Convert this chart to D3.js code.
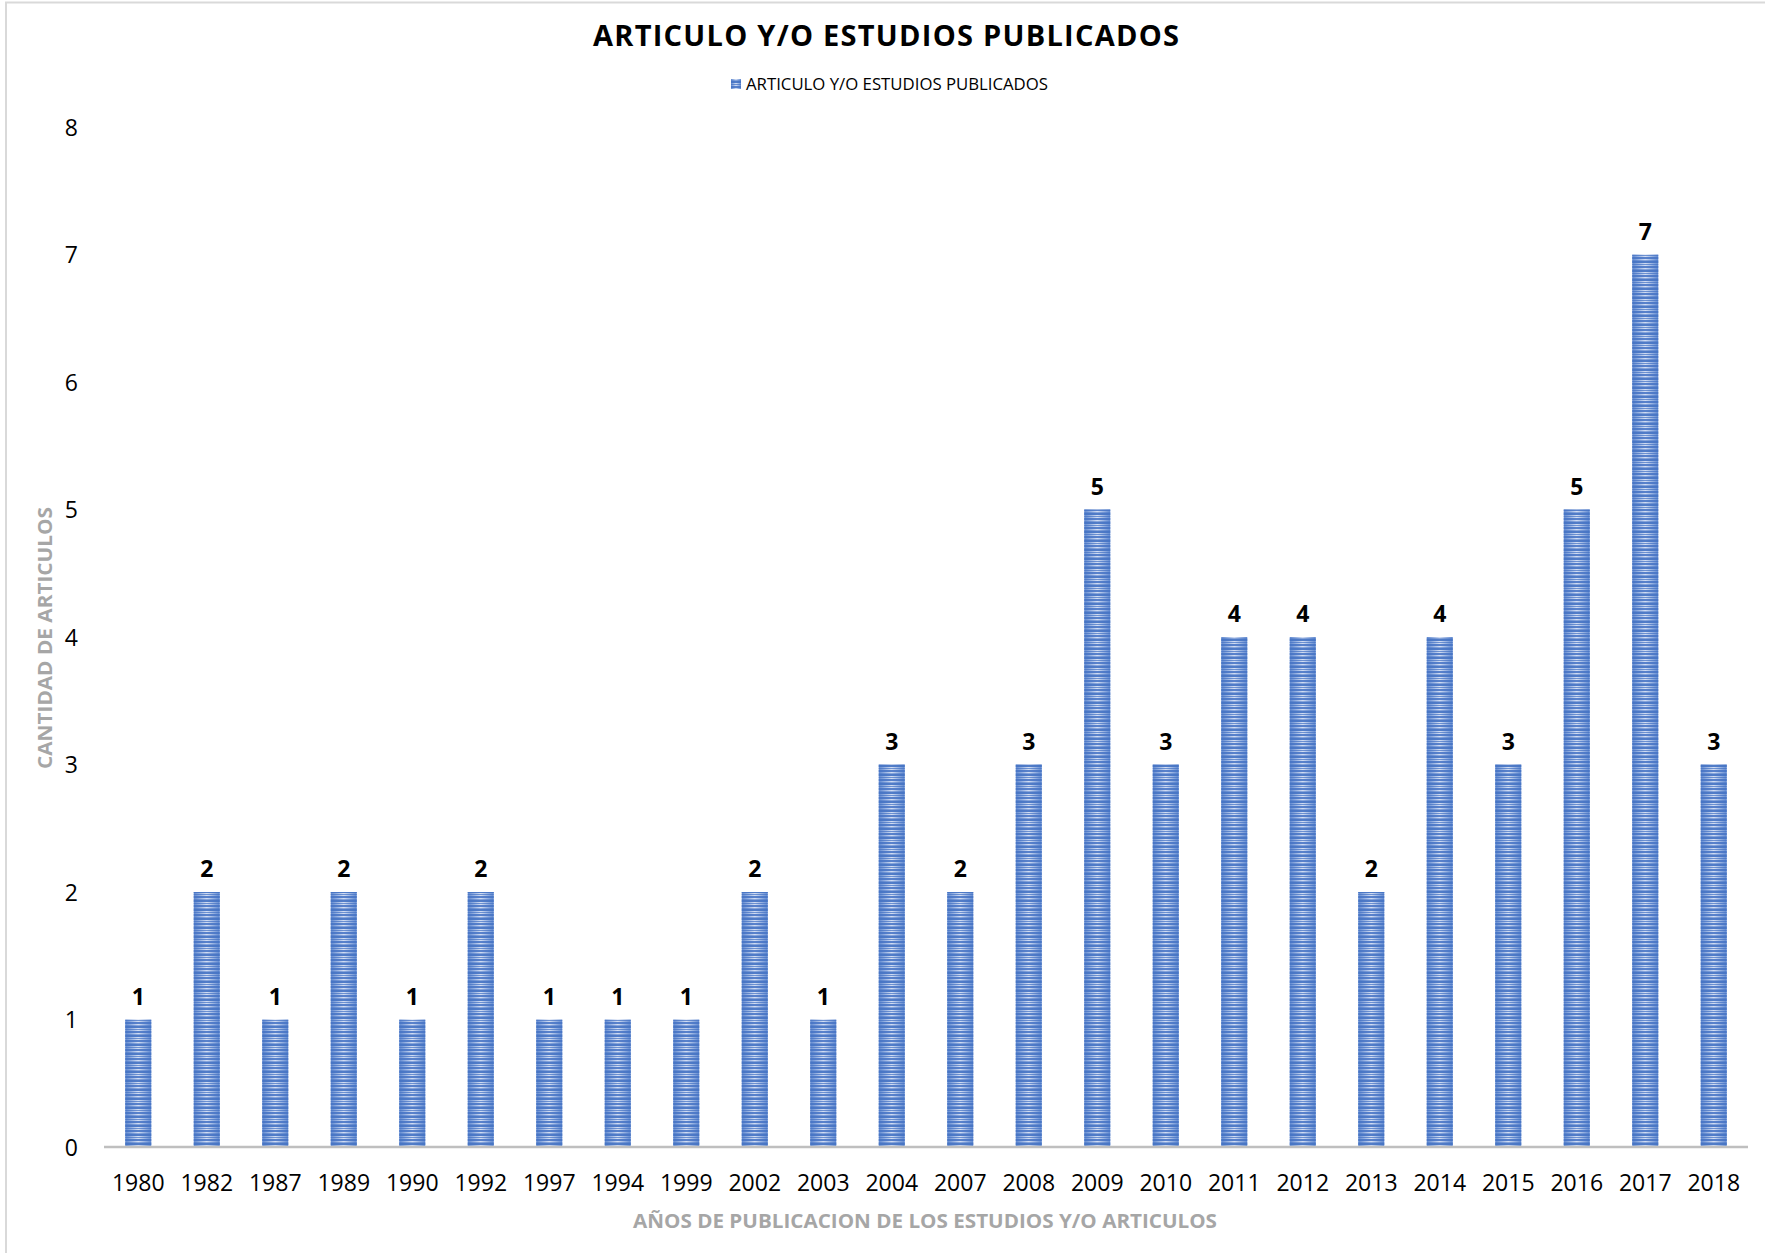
<!DOCTYPE html>
<html>
<head>
<meta charset="utf-8">
<script src="https://cdn.jsdelivr.net/npm/d3@7"></script>
<style>
  html, body { margin: 0; padding: 0; background: #fff; }
  svg { display: block; }
</style>
</head>
<body>
<svg id="chart" width="1765" height="1253"></svg>
<script>
const years = ["1980","1982","1987","1989","1990","1992","1997","1994","1999","2002","2003","2004","2007","2008","2009","2010","2011","2012","2013","2014","2015","2016","2017","2018"];
const counts = [1,2,1,2,1,2,1,1,1,2,1,3,2,3,5,3,4,4,2,4,3,5,7,3];
const yTickValues = [0,1,2,3,4,5,6,7,8];
const titleText = "ARTICULO Y/O ESTUDIOS PUBLICADOS";
const seriesName = "ARTICULO Y/O ESTUDIOS PUBLICADOS";
const xTitle = "AÑOS DE PUBLICACION DE LOS ESTUDIOS Y/O ARTICULOS";
const yTitle = "CANTIDAD DE ARTICULOS";

const data = years.map((y, i) => ({ year: y, value: counts[i] }));
const svg = d3.select("#chart");
const font = "'Open Sans', 'Noto Sans', sans-serif";

// border
svg.append("path").attr("d", "M6,1765 V2.5 H1765").attr("fill", "none")
  .attr("stroke", "#d9d9d9").attr("stroke-width", 2);

// defs
const defs = svg.append("defs");
const grad = defs.append("linearGradient").attr("id", "barGrad")
  .attr("x1", "0%").attr("x2", "100%").attr("y1", "0%").attr("y2", "0%");
grad.append("stop").attr("offset", "0%").attr("stop-color", "#6089d0");
grad.append("stop").attr("offset", "50%").attr("stop-color", "#d3def3");
grad.append("stop").attr("offset", "100%").attr("stop-color", "#6089d0");
const pat = defs.append("pattern").attr("id", "stripes")
  .attr("patternUnits", "userSpaceOnUse").attr("width", 10).attr("height", 9);
pat.append("rect").attr("x", 0).attr("y", 0).attr("width", 10).attr("height", 2).attr("fill", "#4472c4").attr("opacity", 0.9);
pat.append("rect").attr("x", 0).attr("y", 3).attr("width", 10).attr("height", 1).attr("fill", "#4472c4").attr("opacity", 0.7);
pat.append("rect").attr("x", 0).attr("y", 5).attr("width", 10).attr("height", 2).attr("fill", "#4472c4").attr("opacity", 0.85);
pat.append("rect").attr("x", 0).attr("y", 8).attr("width", 10).attr("height", 1).attr("fill", "#4472c4").attr("opacity", 0.5);

const x = d3.scaleBand().domain(years).range([104, 1748]).paddingInner(0.62).paddingOuter(0.31);
const y = d3.scaleLinear().domain([0, 8]).range([1147, 127]);

// title
svg.append("text").attr("x", 886).attr("y", 46).attr("text-anchor", "middle")
  .attr("font-family", font).attr("font-weight", 700).attr("font-size", 29)
  .attr("fill", "#000").attr("textLength", 586).attr("lengthAdjust", "spacing")
  .text(titleText);

// legend
svg.append("rect").attr("x", 731).attr("y", 79).attr("width", 10).attr("height", 10)
  .attr("fill", "url(#barGrad)");
svg.append("rect").attr("x", 731).attr("y", 79).attr("width", 10).attr("height", 10)
  .attr("fill", "url(#stripes)");
svg.append("text").attr("x", 746).attr("y", 90).attr("font-family", font)
  .attr("font-size", 16.5).attr("fill", "#000")
  .attr("textLength", 302).attr("lengthAdjust", "spacingAndGlyphs")
  .text(seriesName);

// y axis ticks (labels only)
const yAxis = d3.axisLeft(y).tickValues(yTickValues).tickSize(0).tickPadding(0).tickFormat(d3.format("d"));
const gy = svg.append("g").attr("transform", "translate(78,0)").call(yAxis);
gy.select(".domain").remove();
gy.selectAll("text").attr("font-family", font).attr("font-size", 23).attr("fill", "#000").attr("dy", "0.35em");

// bars
const bars = svg.append("g");
bars.selectAll("rect.base").data(data).join("rect").attr("class", "base")
  .attr("x", d => x(d.year)).attr("width", x.bandwidth())
  .attr("y", d => y(d.value)).attr("height", d => y(0) - y(d.value))
  .attr("fill", "url(#barGrad)");
bars.selectAll("rect.stripe").data(data).join("rect").attr("class", "stripe")
  .attr("x", d => x(d.year)).attr("width", x.bandwidth())
  .attr("y", d => y(d.value)).attr("height", d => y(0) - y(d.value))
  .attr("fill", "url(#stripes)");

// x axis
const xAxis = d3.axisBottom(x).tickSize(0).tickPadding(0);
const gx = svg.append("g").attr("transform", `translate(0,${y(0)})`).call(xAxis);
gx.select(".domain").attr("stroke", "#bfbfbf").attr("stroke-width", 2.5)
  .attr("d", `M104,0H1748`);
gx.selectAll("text").attr("font-family", font).attr("font-size", 23).attr("fill", "#000")
  .attr("y", 44).attr("dy", 0);

// data labels
svg.append("g").selectAll("text").data(data).join("text")
  .attr("x", d => x(d.year) + x.bandwidth() / 2)
  .attr("y", d => y(d.value) - 15)
  .attr("text-anchor", "middle").attr("font-family", font).attr("font-weight", 700)
  .attr("font-size", 23).attr("fill", "#000").text(d => d.value);

// axis titles
svg.append("text").attr("x", 925).attr("y", 1228).attr("text-anchor", "middle")
  .attr("font-family", font).attr("font-weight", 700).attr("font-size", 19)
  .attr("fill", "#a6a6a6").attr("textLength", 584).attr("lengthAdjust", "spacingAndGlyphs")
  .text(xTitle);
svg.append("text").attr("transform", "translate(52,638) rotate(-90)").attr("text-anchor", "middle")
  .attr("font-family", font).attr("font-weight", 700).attr("font-size", 19)
  .attr("fill", "#a6a6a6").attr("textLength", 262).attr("lengthAdjust", "spacingAndGlyphs")
  .text(yTitle);
</script>
</body>
</html>
